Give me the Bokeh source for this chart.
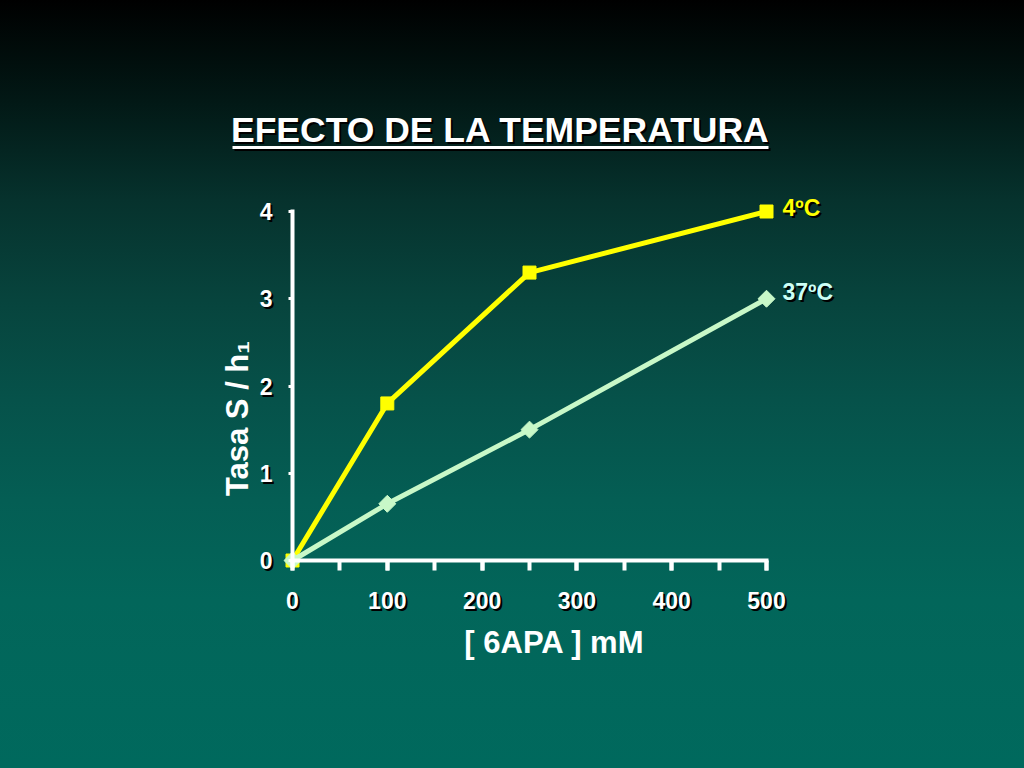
import numpy as np
from bokeh.plotting import figure
from bokeh.models import (Range1d, LinearAxis, SingleIntervalTicker, FixedTicker,
                          Label, ColumnDataSource)
from bokeh.core.properties import value
from bokeh.embed import file_html
from bokeh.resources import INLINE

# ---------------- data ----------------
title_text = "EFECTO DE LA TEMPERATURA"
x_label = "[ 6APA ] mM"
y_label = "Tasa S / h\u2081"
conc = [0, 100, 250, 500]
rate_4 = [0, 1.8, 3.3, 4.0]
rate_37 = [0, 0.65, 1.5, 3.0]
series_names = ["4ºC", "37ºC"]
x_ticks_interval = 100
y_ticks = [0, 1, 2, 3, 4]

# ---------------- layout ----------------
W, H = 1024, 768
FL, FR, FT, FB = 0, W, 0, H                 # frame covers whole figure
X0PX, X500PX = 292, 766                     # where x=0 / x=500 sit
Y0PX, Y4PX = 560, 211                       # where y=0 / y=4 sit
sx = (X500PX - X0PX) / 500.0
sy = (Y0PX - Y4PX) / 4.0
x_start = -(X0PX - FL) / sx
x_end = 500 + (FR - X500PX) / sx
y_start = -(FB - Y0PX) / sy
y_end = 4 + (Y4PX - FT) / sy


def fx(px):
    return x_start + (px - FL) / sx


def fy(py):
    return y_start + (FB - py) / sy


YEL = "#ffff00"
C37 = "#c8f8c8"
C37T = "#ccfff6"
FONT = "Liberation Sans"
TICK_FS = "23px"
LAB_FS = "31px"

p = figure(width=W, height=H, x_range=Range1d(x_start, x_end),
           y_range=Range1d(y_start, y_end), output_backend="svg",
           toolbar_location=None, x_axis_location=None, y_axis_location=None,
           min_border=0, background_fill_color=None,
           border_fill_color=None, outline_line_color=None)
p.grid.visible = False

stops = [(0, (0, 0, 0)), (100, (2, 24, 21)), (200, (6, 50, 45)), (300, (7, 68, 61)),
         (400, (6, 82, 74)), (500, (4, 94, 84)), (600, (2, 102, 90)), (768, (0, 105, 93))]
grad = ", ".join("rgb(%d,%d,%d) %dpx" % (c[0], c[1], c[2], y) for y, c in stops)
p.styles = {"background": "linear-gradient(to bottom, %s)" % grad}

dx = 2.0 / sx
dy = 2.0 / sy
p.extra_x_ranges = {"xs": Range1d(x_start - dx, x_end - dx)}
p.extra_y_ranges = {"ys": Range1d(y_start + dy, y_end + dy)}


def style_axis(ax, color, shadow):
    ax.major_label_text_font = FONT
    ax.major_label_text_font_style = "bold"
    ax.major_label_text_font_size = TICK_FS
    ax.major_label_text_color = color
    if shadow:
        ax.axis_line_color = None
        ax.major_tick_line_color = None
        ax.minor_tick_line_color = None
    else:
        ax.axis_line_color = "white"
        ax.axis_line_width = 4
        ax.axis_line_cap = "square"
        ax.major_tick_line_color = "white"
        ax.minor_tick_line_color = "white"


def make_x(shadow):
    ax = LinearAxis(ticker=SingleIntervalTicker(interval=x_ticks_interval, num_minor_ticks=2),
                    bounds=(0, 500), fixed_location=(-dy if shadow else 0),
                    major_tick_in=0, major_tick_out=10, minor_tick_in=0, minor_tick_out=10,
                    major_tick_line_width=4, minor_tick_line_width=4,
                    major_label_standoff=21)
    if shadow:
        ax.x_range_name = "xs"
    style_axis(ax, "black" if shadow else "white", shadow)
    return ax


def make_y(shadow):
    ax = LinearAxis(ticker=FixedTicker(ticks=y_ticks, minor_ticks=[]),
                    bounds=(0, 4), fixed_location=(dx if shadow else 0),
                    major_tick_in=0, major_tick_out=4, minor_tick_in=0, minor_tick_out=0,
                    major_tick_line_width=3, major_label_standoff=16)
    if shadow:
        ax.y_range_name = "ys"
    style_axis(ax, "black" if shadow else "white", shadow)
    return ax


p.add_layout(make_x(True), "below")
p.add_layout(make_x(False), "below")
p.add_layout(make_y(True), "left")
p.add_layout(make_y(False), "left")

# axis titles (placed off-centre, as on the slide)
p.add_layout(Label(x=fx(237), y=fy(418), text=y_label, angle=np.pi / 2,
                   text_align="center", text_baseline="middle",
                   text_font=FONT, text_font_style="bold",
                   text_font_size=LAB_FS, text_color="white"))
p.add_layout(Label(x=fx(554), y=fy(642), text=x_label,
                   text_align="center", text_baseline="middle",
                   text_font=FONT, text_font_style="bold",
                   text_font_size=LAB_FS, text_color="white"))

# ---------------- title ----------------
for off, col in [(2, "black"), (0, "white")]:
    p.add_layout(Label(x=fx(500 + off), y=fy(129 + off), text=title_text,
                       text_align="center", text_baseline="alphabetic",
                       text_font=FONT, text_font_style="bold",
                       text_font_size="35.5px", text_color=col))
    p.segment(x0=[fx(232 + off)], x1=[fx(768 + off)], y0=[fy(147 + off)],
              y1=[fy(147 + off)], line_color=col, line_width=3)

# ---------------- series ----------------
src = ColumnDataSource(dict(x=conc, y4=rate_4, y37=rate_37))
p.line("x", "y4", source=src, line_color=YEL, line_width=5)
p.scatter("x", "y4", source=src, marker="square", size=13, color=YEL)
p.line("x", "y37", source=src, line_color=C37, line_width=5)
p.scatter("x", "y37", source=src, marker="square", angle=np.pi / 4, size=12, color=C37)

lab = ColumnDataSource(dict(x=[conc[-1], conc[-1]], y=[rate_4[-1], rate_37[-1]],
                            t=series_names, c=[YEL, C37T], yo=[-4, -7], yos=[-2, -5]))
p.text("x", "y", text="t", source=lab, x_offset=18, y_offset="yos",
       text_color="black", text_font=value(FONT), text_font_style="bold",
       text_font_size="23px", text_baseline="middle")
p.text("x", "y", text="t", source=lab, x_offset=16, y_offset="yo",
       text_color="c", text_font=value(FONT), text_font_style="bold",
       text_font_size="23px", text_baseline="middle")

open("out.html", "w").write(file_html(p, INLINE))
